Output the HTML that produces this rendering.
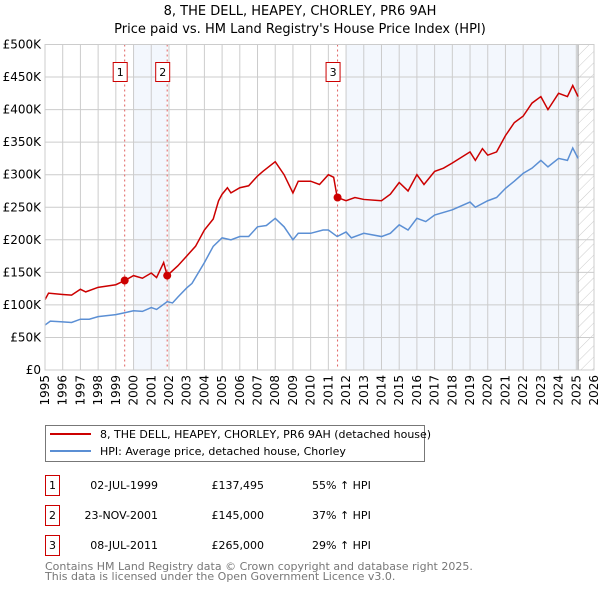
<!DOCTYPE html>
<html><head><meta charset="utf-8"><style>
body{margin:0;background:#fff;font-family:"DejaVu Sans","Liberation Sans",sans-serif;}
svg text{font-family:"DejaVu Sans","Liberation Sans",sans-serif;}
</style></head><body>
<svg id="c" width="600" height="590" xmlns="http://www.w3.org/2000/svg">
<defs><pattern id="hatch" width="8" height="8" patternUnits="userSpaceOnUse" patternTransform="rotate(45)"><line x1="0" y1="0" x2="0" y2="8" stroke="#ccc" stroke-width="1"/></pattern></defs>
<text x="300" y="15" text-anchor="middle" font-size="13" fill="#000">8, THE DELL, HEAPEY, CHORLEY, PR6 9AH</text>
<text x="300" y="33" text-anchor="middle" font-size="13" fill="#000">Price paid vs. HM Land Registry's House Price Index (HPI)</text>
<g id="plot"></g>
<g>
<rect x="45.5" y="425.5" width="379" height="36" fill="#fff" stroke="#777"/>
<line x1="50" y1="434" x2="91" y2="434" stroke="#cc0000" stroke-width="2"/>
<text x="100" y="438" font-size="11">8, THE DELL, HEAPEY, CHORLEY, PR6 9AH (detached house)</text>
<line x1="50" y1="451" x2="91" y2="451" stroke="#5b8fd4" stroke-width="2"/>
<text x="100" y="455" font-size="11">HPI: Average price, detached house, Chorley</text>
</g>
<g font-size="11">
<rect x="45.5" y="475.5" width="14" height="20" fill="#fff" stroke="#cc0000"/><text x="52.5" y="489" text-anchor="middle">1</text>
<text x="158" y="489" text-anchor="end">02-JUL-1999</text><text x="264" y="489" text-anchor="end">£137,495</text><text x="312" y="489">55% ↑ HPI</text>
<rect x="45.5" y="505.5" width="14" height="20" fill="#fff" stroke="#cc0000"/><text x="52.5" y="519" text-anchor="middle">2</text>
<text x="158" y="519" text-anchor="end">23-NOV-2001</text><text x="264" y="519" text-anchor="end">£145,000</text><text x="312" y="519">37% ↑ HPI</text>
<rect x="45.5" y="535.5" width="14" height="20" fill="#fff" stroke="#cc0000"/><text x="52.5" y="549" text-anchor="middle">3</text>
<text x="158" y="549" text-anchor="end">08-JUL-2011</text><text x="264" y="549" text-anchor="end">£265,000</text><text x="312" y="549">29% ↑ HPI</text>
</g>
<text x="45" y="570" font-size="11" fill="#777">Contains HM Land Registry data © Crown copyright and database right 2025.</text>
<text x="45" y="580" font-size="11" fill="#777">This data is licensed under the Open Government Licence v3.0.</text>
</svg>
<script>
const yTicks=[0,50000,100000,150000,200000,250000,300000,350000,400000,450000,500000];
const yTickLabels=["£0","£50K","£100K","£150K","£200K","£250K","£300K","£350K","£400K","£450K","£500K"];
const xYears=[1995,1996,1997,1998,1999,2000,2001,2002,2003,2004,2005,2006,2007,2008,2009,2010,2011,2012,2013,2014,2015,2016,2017,2018,2019,2020,2021,2022,2023,2024,2025,2026];
const hpiT=[1995,1995.3,1996,1996.5,1997,1997.5,1998,1999,1999.5,2000,2000.5,2001,2001.3,2001.9,2002.2,2002.5,2003,2003.3,2004,2004.5,2005,2005.5,2006,2006.5,2007,2007.5,2008,2008.5,2009,2009.3,2010,2010.7,2011,2011.5,2012,2012.3,2013,2014,2014.5,2015,2015.5,2016,2016.5,2017,2018,2019,2019.3,2020,2020.5,2021,2021.5,2022,2022.5,2023,2023.4,2024,2024.5,2024.8,2025.1];
const hpiV=[69000,75000,74000,73000,78000,78000,82000,85000,88000,91000,90000,96000,93000,105000,103000,112000,126000,133000,165000,190000,203000,200000,205000,205000,220000,222000,233000,220000,200000,210000,210000,215000,215000,205000,212000,203000,210000,205000,210000,223000,215000,233000,228000,238000,246000,258000,250000,260000,265000,279000,290000,302000,310000,322000,312000,325000,322000,341000,325000];
const redT=[1995,1995.2,1996,1996.5,1997,1997.3,1998,1999,1999.5,2000,2000.5,2001,2001.3,2001.7,2001.9,2002.5,2003,2003.5,2004,2004.5,2004.8,2005,2005.3,2005.5,2006,2006.5,2007,2007.3,2008,2008.5,2009,2009.3,2010,2010.5,2011,2011.3,2011.5,2012,2012.5,2013,2014,2014.5,2015,2015.5,2016,2016.4,2017,2017.5,2018,2019,2019.3,2019.7,2020,2020.5,2021,2021.5,2022,2022.5,2023,2023.4,2024,2024.5,2024.8,2025.1];
const redV=[108000,118000,116000,115000,124000,120000,127000,131000,137495,145000,141000,149000,142000,165000,145000,160000,175000,190000,215000,232000,260000,270000,280000,272000,280000,283000,298000,305000,320000,300000,272000,290000,290000,285000,300000,296000,265000,260000,265000,262000,260000,270000,288000,275000,300000,285000,305000,310000,318000,335000,322000,340000,330000,335000,360000,380000,390000,410000,420000,400000,425000,420000,437000,420000];
const saleT=[1999.5,2001.9,2011.52];
const saleV=[137495,145000,265000];
const saleLbl=["1","2","3"];
const X0=45,X1=594,Y0=370,Y1=44.5;
const x=t=>X0+(t-1995)/31*(X1-X0);
const y=v=>Y0-v/500000*(Y0-Y1);
const NS="http://www.w3.org/2000/svg",g=document.getElementById('plot');
function mk(tag,at){const e=document.createElementNS(NS,tag);for(const k in at)e.setAttribute(k,at[k]);g.appendChild(e);return e;}
let e;
e=mk('rect',{x:x(2000),y:Y1,width:x(2001.9)-x(2000),height:Y0-Y1,fill:'#eef3fc',opacity:0.7});


e=mk('rect',{x:x(2012),y:Y1,width:x(2025.1)-x(2012),height:Y0-Y1,fill:'#eef3fc',opacity:0.7});


e=mk('rect',{x:x(2025.1),y:Y1,width:X1-x(2025.1),height:Y0-Y1,fill:'url(#hatch)'});


yTicks.forEach((v,i)=>{
 e=mk('line',{x1:X0,x2:X1,y1:y(v),y2:y(v),stroke:'#ccc'});
 
 
 e=mk('text',{x:X0-4,y:y(v)+4,'text-anchor':'end','font-size':12});e.textContent=yTickLabels[i];
 
 
});
xYears.forEach(t=>{
 e=mk('line',{x1:x(t),x2:x(t),y1:Y1,y2:Y0,stroke:'#ccc'});
 
 
 e=mk('text',{x:0,y:0,'font-size':12,'text-anchor':'end',transform:`translate(${x(t)+4},${Y0+5}) rotate(-90)`});e.textContent=t;
 
 
});
e=mk('line',{x1:x(2025.1),x2:x(2025.1),y1:Y1,y2:Y0,stroke:'#999'});


saleT.forEach((t,i)=>{
 e=mk('line',{x1:x(t),x2:x(t),y1:Y1,y2:Y0,stroke:'#e06060','stroke-dasharray':'2,3'});
 
 
});
e=mk('polyline',{points:hpiT.map((t,i)=>x(t)+','+y(hpiV[i])).join(' '),fill:'none',stroke:'#5b8fd4','stroke-width':1.5});


e=mk('polyline',{points:redT.map((t,i)=>x(t)+','+y(redV[i])).join(' '),fill:'none',stroke:'#cc0000','stroke-width':1.5});


saleT.forEach((t,i)=>{
 e=mk('circle',{cx:x(t),cy:y(saleV[i]),r:4,fill:'#cc0000'});
 
 
 e=mk('rect',{x:x(t)-11.5,y:62.5,width:14,height:19,fill:'#fff',stroke:'#cc0000'});
 
 
 e=mk('text',{x:x(t)-4.5,y:76,'text-anchor':'middle','font-size':11});e.textContent=saleLbl[i];
 
 
});
e=mk('rect',{x:X0,y:Y1,width:X1-X0,height:Y0-Y1,fill:'none',stroke:'#ccc'});


</script>
</body></html>
